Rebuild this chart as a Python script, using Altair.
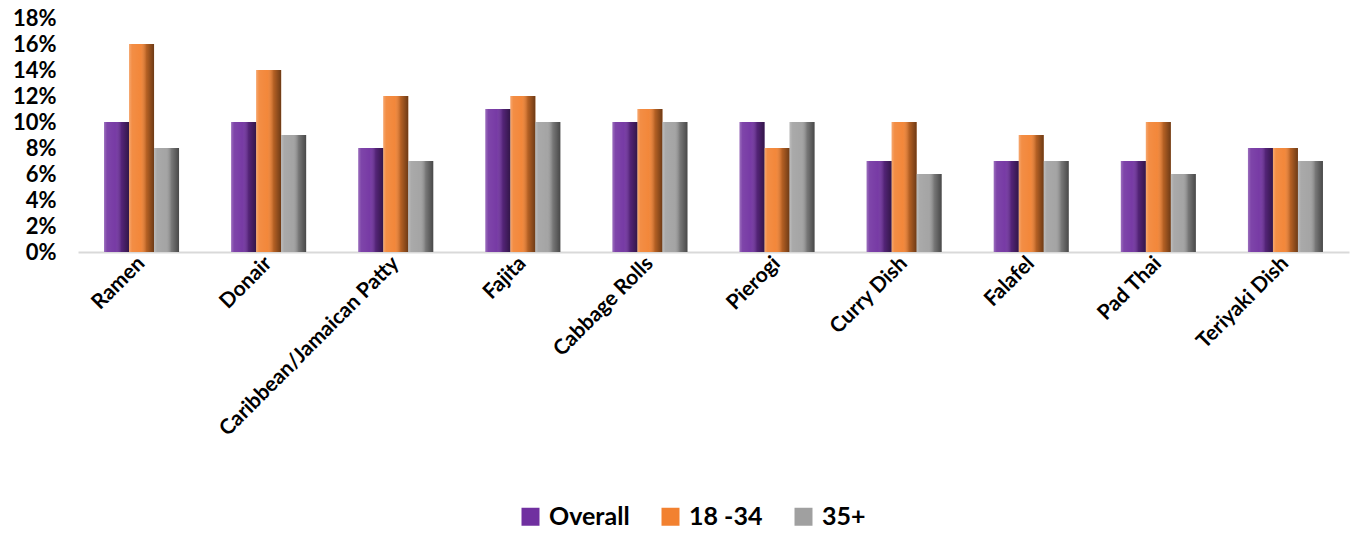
import altair as alt
import pandas as pd

categories = ["Ramen", "Donair", "Caribbean/Jamaican Patty", "Fajita", "Cabbage Rolls",
              "Pierogi", "Curry Dish", "Falafel", "Pad Thai", "Teriyaki Dish"]
series_names = ["Overall", "18 -34", "35+"]
overall = [10, 10, 8, 11, 10, 10, 7, 7, 7, 8]
age_18_34 = [16, 14, 12, 12, 11, 8, 10, 9, 10, 8]
age_35_plus = [8, 9, 7, 10, 10, 10, 6, 7, 6, 7]
colors = ["#7030A0", "#F28130", "#A0A0A0"]

rows = []
for i, c in enumerate(categories):
    for s, vals in zip(series_names, [overall, age_18_34, age_35_plus]):
        rows.append({"category": c, "series": s, "value": vals[i] / 100})
df = pd.DataFrame(rows)

FONT = "Lato"

x = alt.X("category:N", sort=categories, title=None,
          scale=alt.Scale(paddingInner=0.41, paddingOuter=0.205),
          axis=alt.Axis(labelAngle=-45, labelAlign="right", labelBaseline="middle",
                        labelFont=FONT, labelFontWeight="bold", labelFontSize=21,
                        labelColor="#000000", labelPadding=8, ticks=False,
                        domainColor="#D9D9D9", domainWidth=2, labelLimit=400))
y = alt.Y("value:Q", title=None,
          scale=alt.Scale(domain=[0, 0.18], nice=False),
          axis=alt.Axis(format=".0%", values=[i / 100 for i in range(0, 19, 2)],
                        labelFont=FONT, labelFontWeight="bold", labelFontSize=22,
                        labelColor="#000000", labelPadding=22, ticks=False,
                        domain=False, grid=False))
xo = alt.XOffset("series:N", sort=series_names, scale=alt.Scale(paddingInner=0))

base = alt.Chart(df).mark_bar().encode(
    x=x, y=y, xOffset=xo,
    color=alt.Color("series:N", sort=series_names,
                    scale=alt.Scale(domain=series_names, range=colors),
                    legend=alt.Legend(title=None, orient="none", direction="horizontal",
                                      legendX=440, legendY=486,
                                      symbolType="square", symbolSize=324,
                                      symbolStrokeWidth=0,
                                      labelFont=FONT, labelFontWeight="bold",
                                      labelFontSize=25, labelColor="#000000",
                                      columnPadding=28, labelOffset=6)),
)

shade = alt.Chart(df).mark_bar(
    color=alt.Gradient(
        gradient="linear", x1=0, x2=1, y1=0, y2=0,
        stops=[
            alt.GradientStop(offset=0, color="rgba(255,255,255,0.30)"),
            alt.GradientStop(offset=0.12, color="rgba(255,255,255,0.10)"),
            alt.GradientStop(offset=0.45, color="rgba(255,255,255,0.05)"),
            alt.GradientStop(offset=0.7, color="rgba(0,0,0,0.25)"),
            alt.GradientStop(offset=1, color="rgba(0,0,0,0.55)"),
        ],
    )
).encode(x=x, y=y, xOffset=xo)

chart = alt.layer(base, shade).properties(
    width=1271, height=234,
    autosize=alt.AutoSizeParams(type="none"),
    padding={"left": 78, "top": 18, "right": 10, "bottom": 281},
).configure_view(stroke=None)

chart.save("out.html", embed_options={"renderer": "svg", "actions": False})
